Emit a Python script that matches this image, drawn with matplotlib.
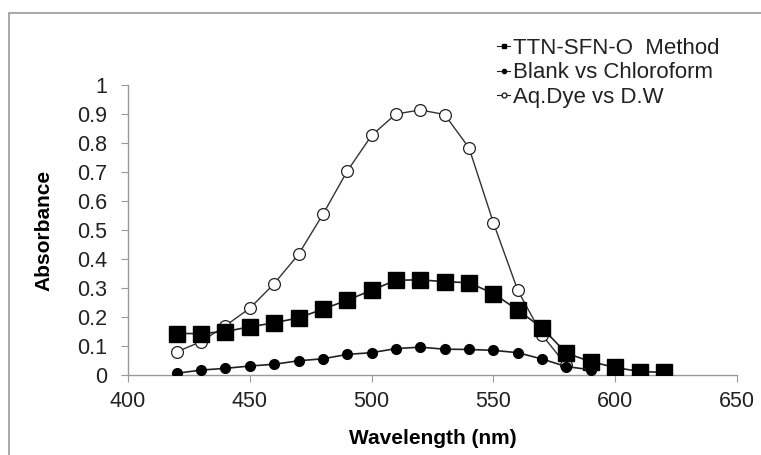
import matplotlib
matplotlib.use("Agg")
import matplotlib.pyplot as plt
from matplotlib.patches import Rectangle

plt.rcParams['font.family'] = ['Liberation Sans', 'DejaVu Sans']

# wavelengths (nm) and absorbance readings for each series
wl_method = [420, 430, 440, 450, 460, 470, 480, 490, 500, 510, 520, 530, 540, 550, 560, 570, 580, 590, 600, 610, 620]
abs_method = [0.143, 0.143, 0.150, 0.166, 0.180, 0.197, 0.227, 0.258, 0.292, 0.327, 0.328, 0.322, 0.318, 0.281, 0.224, 0.162, 0.075, 0.046, 0.026, 0.012, 0.009]

wl_blank = [420, 430, 440, 450, 460, 470, 480, 490, 500, 510, 520, 530, 540, 550, 560, 570, 580, 590]
abs_blank = [0.006, 0.017, 0.023, 0.031, 0.037, 0.049, 0.056, 0.071, 0.077, 0.091, 0.096, 0.089, 0.088, 0.085, 0.077, 0.055, 0.029, 0.018]

wl_dye = [420, 430, 440, 450, 460, 470, 480, 490, 500, 510, 520, 530, 540, 550, 560, 570, 580]
abs_dye = [0.080, 0.115, 0.170, 0.230, 0.315, 0.416, 0.554, 0.703, 0.826, 0.900, 0.914, 0.898, 0.783, 0.525, 0.292, 0.138, 0.033]

labels = ['TTN-SFN-O  Method', 'Blank vs Chloroform', 'Aq.Dye vs D.W']

fig = plt.figure(figsize=(7.61, 4.55), dpi=100)
# outer chart frame (cut off at right and bottom like the original)
fig.patches.append(Rectangle((9 / 761, -0.1), 1.2, (455 - 13) / 455 + 0.1,
                             transform=fig.transFigure, fill=False,
                             edgecolor='#999999', linewidth=1.2))

ax = fig.add_axes([128 / 761, 80 / 455, 609 / 761, 290 / 455])

l3, = ax.plot(wl_dye, abs_dye, color='#333333', lw=1, marker='o', ms=8.5,
              mfc='white', mec='#222222', mew=0.9, zorder=2)
l1, = ax.plot(wl_method, abs_method, color='#222222', lw=1.2, marker='s', ms=11,
              mfc='black', mec='black', zorder=3)
l2, = ax.plot(wl_blank, abs_blank, color='#222222', lw=1.2, marker='o', ms=7,
              mfc='black', mec='black', zorder=4)

ax.set_xlim(400, 650)
ax.set_ylim(0, 1)
ax.set_xticks([400, 450, 500, 550, 600, 650])
ax.set_yticks([0, 0.1, 0.2, 0.3, 0.4, 0.5, 0.6, 0.7, 0.8, 0.9, 1])
ax.set_yticklabels(['0', '0.1', '0.2', '0.3', '0.4', '0.5', '0.6', '0.7', '0.8', '0.9', '1'])

for s in ['top', 'right']:
    ax.spines[s].set_visible(False)
for s in ['left', 'bottom']:
    ax.spines[s].set_color('#999999')
    ax.spines[s].set_linewidth(1)
ax.tick_params(direction='out', length=5, color='#999999', labelsize=15.5,
               labelcolor='#222222')
ax.tick_params(axis='x', pad=6.5)
ax.tick_params(axis='y', pad=10)

ax.set_xlabel('Wavelength (nm)', fontsize=15, fontweight='bold', labelpad=12)
ax.set_ylabel('Absorbance', fontsize=15, fontweight='bold', labelpad=17)

# small legend handles in the Excel style
h1, = ax.plot([], [], color='#222222', lw=0.8, marker='s', ms=3, mfc='black', mec='black')
h2, = ax.plot([], [], color='#222222', lw=0.8, marker='o', ms=3, mfc='black', mec='black')
h3, = ax.plot([], [], color='#222222', lw=0.8, marker='o', ms=3.5, mfc='white', mec='#222222')
leg = ax.legend([h1, h2, h3], labels, loc='upper left',
                bbox_to_anchor=(497 / 761, 1 - 38 / 455), bbox_transform=fig.transFigure,
                frameon=False, fontsize=16, handlelength=0.6, handletextpad=0.1,
                labelspacing=0.15, borderaxespad=0, borderpad=0)
for t in leg.get_texts():
    t.set_color('#222222')

fig.savefig('out.png', dpi=100)
